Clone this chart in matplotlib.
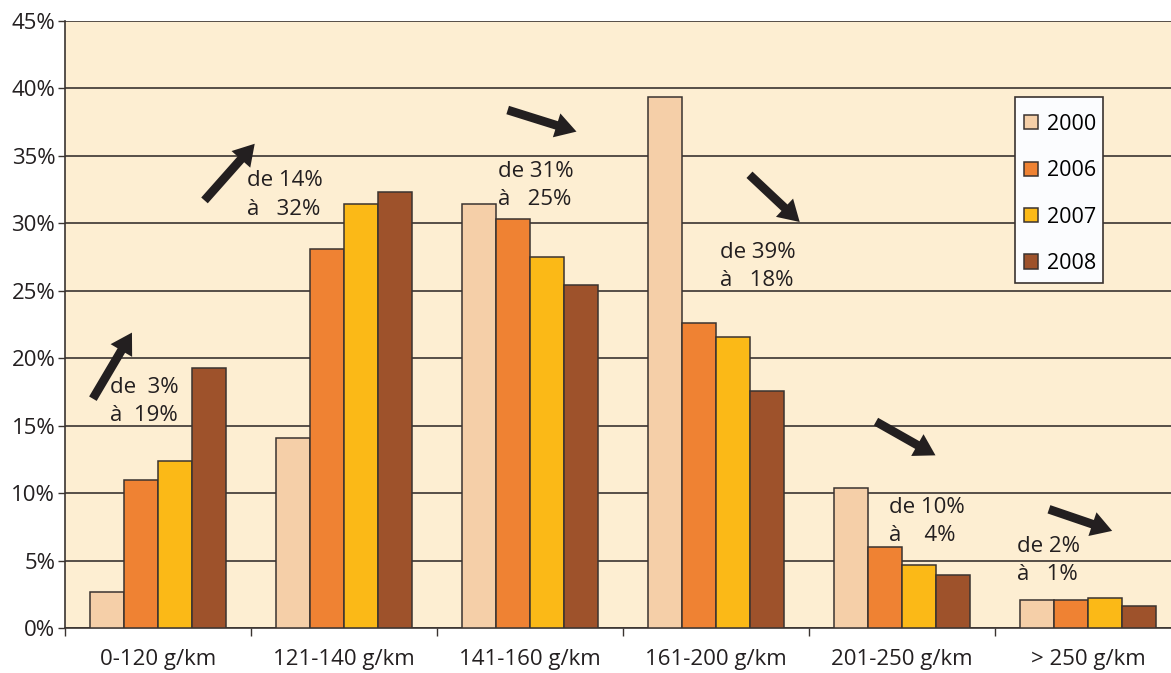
import numpy as np
from matplotlib import pyplot as plt
from matplotlib.patches import Rectangle

plt.rcParams['font.family'] = ['Open Sans', 'DejaVu Sans']

# parts de marché par tranche d'émission de CO2
categories = ['0-120 g/km', '121-140 g/km', '141-160 g/km',
              '161-200 g/km', '201-250 g/km', '> 250 g/km']
years = ['2000', '2006', '2007', '2008']
share_2000 = [2.7, 14.1, 31.4, 39.4, 10.4, 2.1]
share_2006 = [11.0, 28.1, 30.3, 22.6, 6.0, 2.1]
share_2007 = [12.4, 31.4, 27.5, 21.6, 4.7, 2.2]
share_2008 = [19.3, 32.3, 25.4, 17.6, 3.9, 1.6]
series = [share_2000, share_2006, share_2007, share_2008]
colors = ['#F5CFA8', '#EF8233', '#FBB917', '#9E522B']

# annotations "de X% à Y%" : left/middle anchor, then arrow tail -> head
notes = ['de  3%\nà  19%', 'de 14%\nà   32%', 'de 31%\nà   25%',
         'de 39%\nà   18%', 'de 10%\nà    4%', 'de 2%\nà   1%']
note_xy = [(-0.26, 16.8), (0.48, 32.1), (1.83, 32.8),
           (3.02, 26.8), (3.93, 7.9), (4.62, 5.0)]
arrow_tail = [(-0.35, 17.0), (0.25, 31.7), (1.88, 38.4),
              (3.18, 33.6), (3.86, 15.3), (4.79, 8.8)]
arrow_head = [(-0.14, 21.9), (0.52, 35.9), (2.25, 36.8),
              (3.45, 30.1), (4.18, 12.8), (5.13, 7.2)]

fig = plt.figure(figsize=(11.71, 6.73), dpi=100)
ax = fig.add_axes([65 / 1171, 45 / 673, 1116 / 1171, 607 / 673])
ax.set_facecolor('#FDEED2')

x = np.arange(len(categories))
w = 0.183
for i, (vals, c, yr) in enumerate(zip(series, colors, years)):
    ax.bar(x + (i - 1.5) * w, vals, w, color=c, edgecolor='#3a3330',
           linewidth=1.1, label=yr, zorder=3)

ax.set_xlim(-0.5, len(categories) - 0.5)
ax.set_ylim(0, 45)
ax.set_yticks(np.arange(0, 46, 5))
ax.set_yticklabels([f'{v}%' for v in range(0, 46, 5)])
ax.yaxis.grid(True, color='#3a3330', linewidth=1.2, zorder=1)
ax.set_axisbelow(True)

ax.set_xticks(x)
ax.set_xticklabels(categories)
ax.set_xticks(np.arange(-0.5, len(categories), 1), minor=True)
ax.tick_params(axis='x', which='major', length=0, pad=15, labelsize=16,
               colors='#231F20')
ax.tick_params(axis='x', which='minor', length=6, width=1, color='#3a3330')
ax.tick_params(axis='y', length=5, width=1, color='#3a3330', labelsize=16,
               labelcolor='#231F20', pad=2)

for side in ['top', 'right']:
    ax.spines[side].set_visible(False)
ax.spines['left'].set_color('#3a3330')
ax.spines['bottom'].set_color('#3a3330')
ax.spines['left'].set_linewidth(1.2)
ax.spines['bottom'].set_linewidth(1.2)

for txt, (tx, ty) in zip(notes, note_xy):
    ax.text(tx, ty, txt, fontsize=16, color='#231F20', va='center',
            ha='left', linespacing=1.45, zorder=4)

for (x0, y0), (x1, y1) in zip(arrow_tail, arrow_head):
    ax.annotate('', xy=(x1, y1), xytext=(x0, y0),
                arrowprops=dict(arrowstyle='simple,head_length=1.0,head_width=1.2,tail_width=0.42',
                                fc='#231F20', ec='none', mutation_scale=15,
                                shrinkA=0, shrinkB=0),
                zorder=5)

# legend box drawn separately so its size can be set freely
ax.add_patch(Rectangle((0.851, 0.568), 0.0789, 0.306, transform=ax.transAxes,
                       facecolor='#FBFCFE', edgecolor='#3a3330', linewidth=1.2,
                       zorder=6, clip_on=False))
leg = ax.legend(loc='upper left', bbox_to_anchor=(0.859, 0.847),
                fontsize=15.5, frameon=False,
                handlelength=0.65, handleheight=0.65, handletextpad=0.45,
                labelspacing=1.18, borderpad=0, borderaxespad=0)
leg.set_zorder(7)

fig.savefig('out.png', dpi=100, facecolor='white')
